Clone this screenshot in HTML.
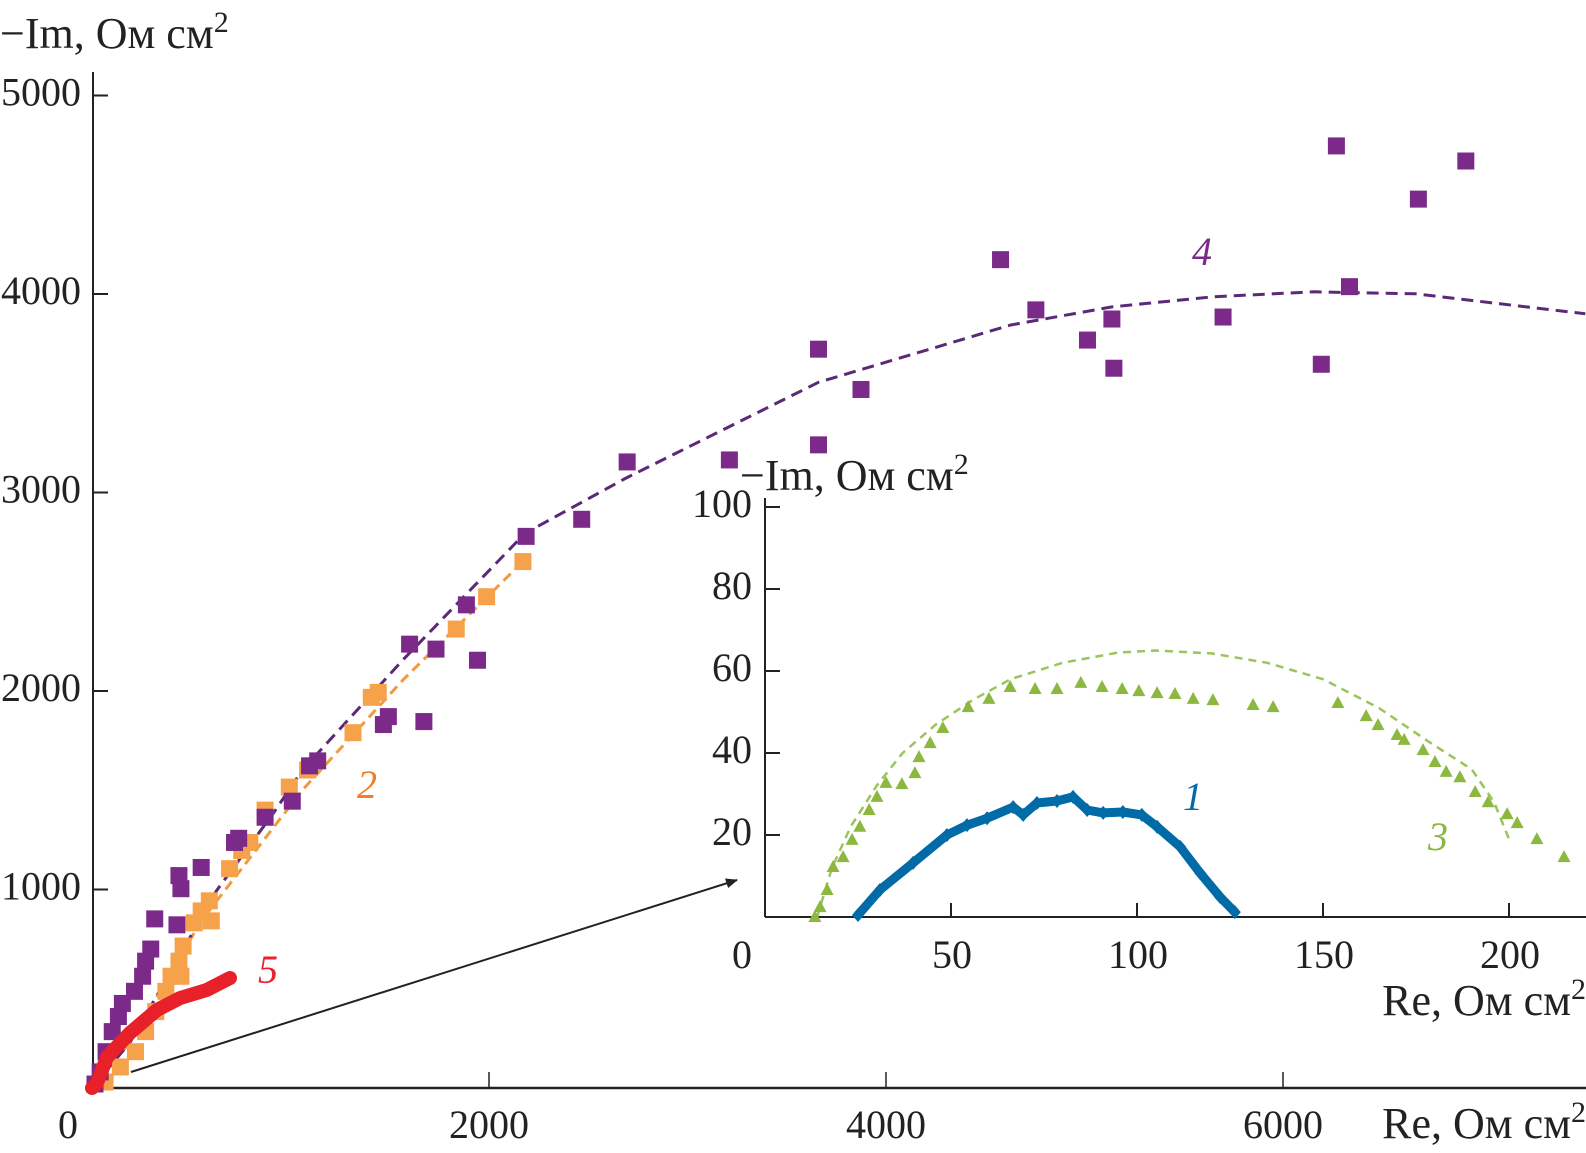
<!DOCTYPE html>
<html><head><meta charset="utf-8"><style>
html,body{margin:0;padding:0;background:#fff;}
svg{display:block;font-family:"Liberation Serif",serif;}
</style></head><body>
<svg id="c" width="1586" height="1153" viewBox="0 0 1586 1153">
<defs><marker id="ah" markerWidth="12" markerHeight="10" refX="11" refY="5" orient="auto" markerUnits="userSpaceOnUse"><path d="M0,0 L12,5 L0,10 Z" fill="#222"/></marker></defs>
<g id="axes"></g>
<g id="marks"></g>
</svg>
<script>
// ---- main chart data ----
const s4x=[6269,6921,6682,4577,6335,4755,5138,5698,5015,5148,6193,3660,3874,3660,3211,2696,2467,2187,1886,1942,1600,1733,1672,1493,1468,1137,1096,1009,872,739,718,550,438,448,428,316,296,270,255,214,153,133,102,71,41,15];
const s4y=[4746,4670,4478,4173,4037,3920,3874,3884,3768,3626,3646,3722,3519,3240,3164,3154,2865,2779,2434,2155,2236,2211,1846,1871,1831,1648,1623,1445,1364,1258,1237,1111,1070,1004,822,852,700,639,563,487,426,360,284,183,81,20];
const s2x=[2171,1988,1835,1442,1407,1315,1086,994,872,795,754,693,591,550,601,515,459,438,398,448,372,321,270,219,143,66];
const s2y=[2652,2475,2312,1993,1968,1790,1602,1516,1400,1237,1197,1105,943,892,842,832,715,639,563,563,487,385,284,183,106,30];
const s5x=[0,25,76,191,327,443,579,695];
const s5y=[0,25,156,277,393,453,494,554];
const f4x=[0,194,397,627,917,1060,1570,2181,2691,3201,3660,4628,5138,5647,6157,6667,7523];
const f4y=[0,233,588,994,1389,1602,2160,2794,3073,3327,3555,3844,3935,3986,4011,4001,3900];
const f2x=[0,194,550,1060,1570,2171];
const f2y=[0,233,842,1501,2059,2652];
const mainXTicks=[0,2000,4000,6000];
const mainYTicks=[1000,2000,3000,4000,5000];
// ---- inset data ----
const s3x=[13.4,14.8,16.7,18.3,21.0,23.4,25.5,28.0,30.1,32.5,36.8,40.3,41.4,44.4,47.8,54.6,60.2,65.9,72.6,78.5,84.9,90.6,96.0,100.5,105.4,110.2,115.1,120.4,131.2,136.6,154.0,161.6,164.8,169.9,171.8,176.9,180.1,183.1,186.8,190.9,194.4,199.5,202.2,207.5,214.8];
const s3y=[0,2.4,6.6,12.2,14.6,18.8,22.0,26.1,29.3,32.7,32.4,35.1,39.0,42.4,46.1,51.2,53.2,56.1,55.6,55.6,57.1,56.1,55.6,55.1,54.6,54.4,53.2,52.9,51.7,51.2,52.2,49.0,46.8,44.4,43.2,40.7,37.8,35.4,34.1,30.5,28.0,25.1,22.9,19.0,14.6];
const f3x=[14,18,23,30,37,46,56,66,80,95,105,120,135,150,165,178,190,196,200];
const f3y=[0,12,22,32,40,47,53,58,62,64.5,65,64.3,62,58,51,43,36,28,19];
const s1x=[25.0,30.9,39.8,48.9,54.3,59.7,66.7,69.4,73.1,78.5,82.8,86.6,90.9,96.2,101.3,105.4,111.6,117.0,122.3,126.3];
const s1y=[0.5,6.6,13.2,20.0,22.4,24.1,26.8,24.9,27.8,28.3,29.3,26.1,25.4,25.6,24.9,22.0,17.1,10.7,4.9,1.2];
const insetXTicks=[50,100,150,200];
const insetYTicks=[20,40,60,80,100];

const NS="http://www.w3.org/2000/svg";
const X=v=>92+v*0.1985, Y=v=>1088-v*0.1985;
const IX=v=>765+v*3.72, IY=v=>917-v*4.1;
const svg=document.getElementById('c');
const ax=document.getElementById('axes');
const mk=document.getElementById('marks');
function el(tag,attrs,parent,txt){const e=document.createElementNS(NS,tag);for(const k in attrs)e.setAttribute(k,attrs[k]);if(txt!==undefined)e.textContent=txt;parent.appendChild(e);return e;}

let e;
e=el('line',{x1:93,y1:72,x2:93,y2:1088,stroke:'#222','stroke-width':2},ax);


e=el('line',{x1:90,y1:1088,x2:1586,y2:1088,stroke:'#222','stroke-width':2.5},ax);


mainYTicks.forEach(t=>{
 e=el('line',{x1:93,y1:Y(t),x2:108,y2:Y(t),stroke:'#222','stroke-width':2},ax);
 
 
 e=el('text',{x:81,y:Y(t)+10,'text-anchor':'end','font-size':40,fill:'#222'},ax,String(t));
 
 
});
mainXTicks.forEach(t=>{
 if(t>0){e=el('line',{x1:X(t),y1:1072,x2:X(t),y2:1088,stroke:'#222','stroke-width':1.5},ax);
 
 }
 e=el('text',{x:t===0?68:X(t),y:1138,'text-anchor':'middle','font-size':40,fill:'#222'},ax,String(t));
 
 
});
e=el('text',{x:0,y:48,'font-size':44,fill:'#222'},ax);
e.innerHTML='−Im, Ом см<tspan dy="-16" font-size="30">2</tspan>';


e=el('text',{x:1586,y:1138,'text-anchor':'end','font-size':44,fill:'#222'},ax);
e.innerHTML='Re, Ом см<tspan dy="-16" font-size="30">2</tspan>';



e=el('line',{x1:765,y1:498,x2:765,y2:917,stroke:'#222','stroke-width':2},ax);


e=el('line',{x1:765,y1:917,x2:1586,y2:917,stroke:'#222','stroke-width':2},ax);


insetYTicks.forEach(t=>{
 e=el('line',{x1:765,y1:IY(t),x2:780,y2:IY(t),stroke:'#222','stroke-width':2},ax);
 
 
 e=el('text',{x:752,y:IY(t)+10,'text-anchor':'end','font-size':40,fill:'#222'},ax,String(t));
 
 
});
insetXTicks.forEach(t=>{
 e=el('line',{x1:IX(t),y1:903,x2:IX(t),y2:917,stroke:'#222','stroke-width':2},ax);
 
 
 e=el('text',{x:IX(t)+1,y:968,'text-anchor':'middle','font-size':40,fill:'#222'},ax,String(t));
 
 
});
e=el('text',{x:742,y:968,'text-anchor':'middle','font-size':40,fill:'#222'},ax,'0');


e=el('text',{x:740,y:490,'font-size':44,fill:'#222'},ax);
e.innerHTML='−Im, Ом см<tspan dy="-16" font-size="30">2</tspan>';


e=el('text',{x:1586,y:1015,'text-anchor':'end','font-size':44,fill:'#222'},ax);
e.innerHTML='Re, Ом см<tspan dy="-16" font-size="30">2</tspan>';



e=el('line',{x1:131,y1:1072,x2:737,y2:880,stroke:'#222','stroke-width':2,'marker-end':'url(#ah)'},ax);



function poly(xs,ys,fx,fy){return xs.map((x,i)=>fx(x).toFixed(1)+','+fy(ys[i]).toFixed(1)).join(' ');}

e=el('polyline',{points:poly(f2x,f2y,X,Y),fill:'none',stroke:'#F19A3E','stroke-width':3,'stroke-dasharray':'10 6'},mk);


e=el('polyline',{points:poly(f4x,f4y,X,Y),fill:'none',stroke:'#5A2A78','stroke-width':3,'stroke-dasharray':'12 7'},mk);



s2x.forEach((x,i)=>{
 e=el('rect',{x:X(x)-8.5,y:Y(s2y[i])-8.5,width:17,height:17,fill:'#F6A24A'},mk);
 
 
});
s4x.forEach((x,i)=>{
 e=el('rect',{x:X(x)-8.5,y:Y(s4y[i])-8.5,width:17,height:17,fill:'#7B2A8A'},mk);
 
 
});
e=el('polyline',{points:poly(s5x,s5y,X,Y),fill:'none',stroke:'#E8202A','stroke-width':14,'stroke-linecap':'round','stroke-linejoin':'round'},mk);



e=el('polyline',{points:poly(f3x,f3y,IX,IY),fill:'none',stroke:'#9BC45A','stroke-width':2.5,'stroke-dasharray':'8 6'},mk);


s3x.forEach((x,i)=>{
 const cx=IX(x),cy=IY(s3y[i]);
 e=el('polygon',{points:`${cx},${cy-7} ${cx-6.5},${cy+5} ${cx+6.5},${cy+5}`,fill:'#8DB840'},mk);
 
 
});
e=el('polyline',{points:poly(s1x,s1y,IX,IY),fill:'none',stroke:'#006BA6','stroke-width':9,'stroke-linejoin':'round','stroke-linecap':'round'},mk);


s1x.forEach((x,i)=>{
 const cx=IX(x),cy=IY(s1y[i]);
 e=el('polygon',{points:`${cx},${cy-7} ${cx+6},${cy} ${cx},${cy+7} ${cx-6},${cy}`,fill:'#006BA6'},mk);
 
 
});

[['4',1202,265,'#7B2A8A','label-series-4'],['2',367,798,'#F07E2A','label-series-2'],['5',268,983,'#E8202A','label-series-5'],['1',1193,810,'#006BA6','label-series-1'],['3',1438,850,'#8DB840','label-series-3']].forEach(l=>{
 e=el('text',{x:l[1],y:l[2],'font-size':40,'font-style':'italic',fill:l[3],'text-anchor':'middle'},mk,l[0]);
 
 
});
</script>
</body></html>
